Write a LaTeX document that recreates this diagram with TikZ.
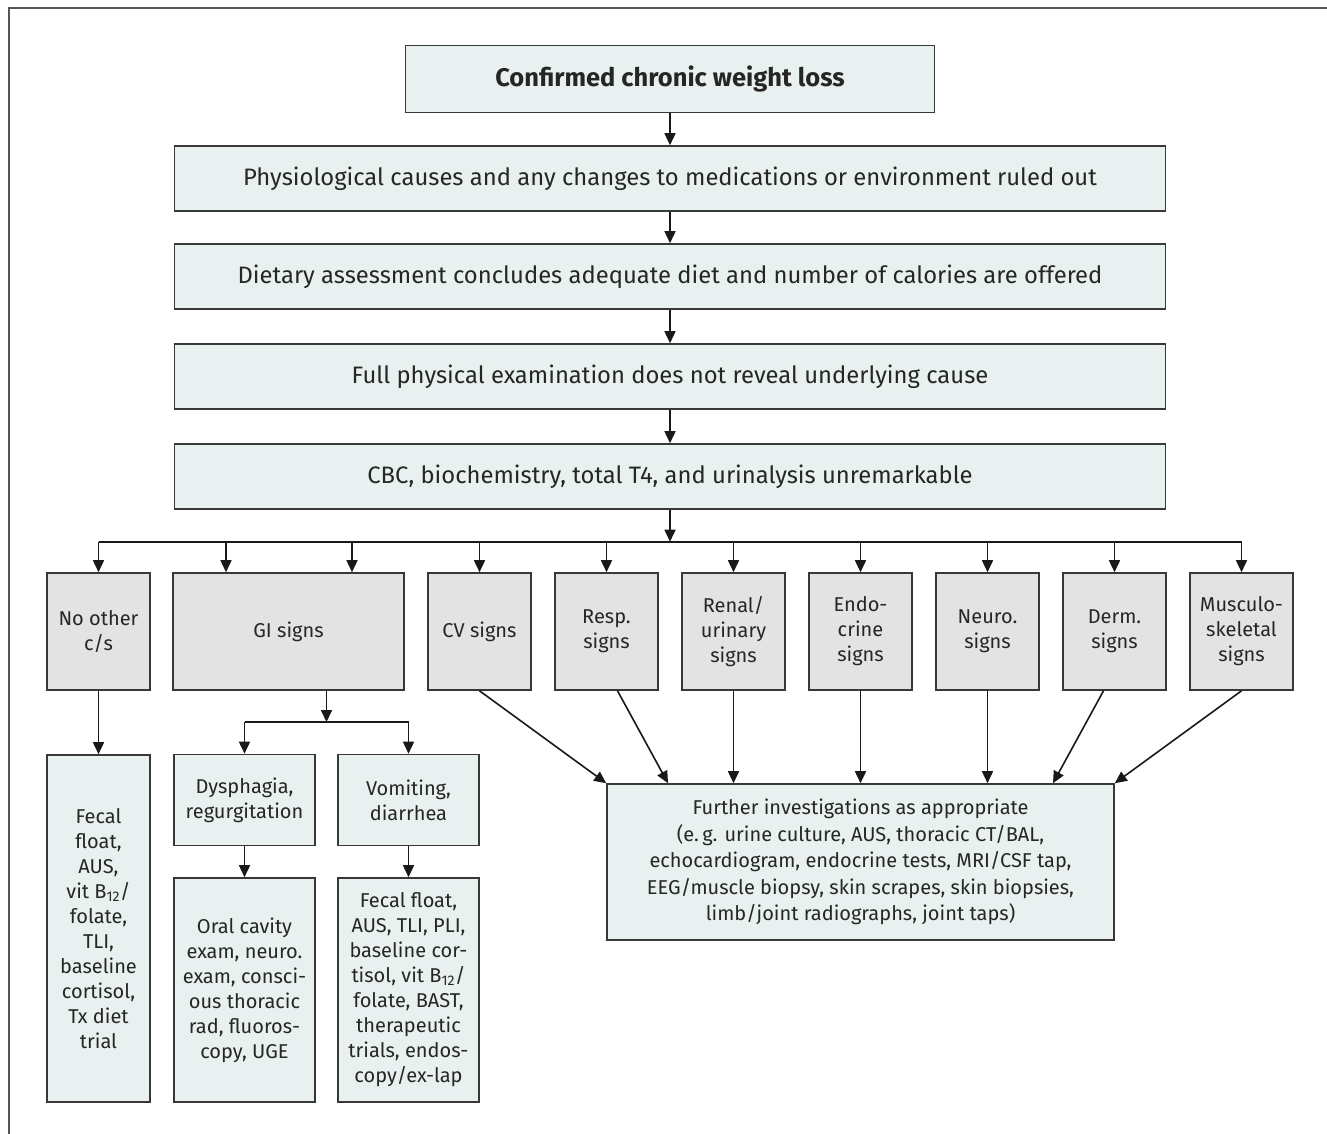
\documentclass[tikz,border=0pt]{standalone}
\usepackage{fontspec}
\setmainfont{Fira Sans}
\usetikzlibrary{arrows.meta}

\definecolor{boxteal}{HTML}{E8F1F0}
\definecolor{boxgray}{HTML}{E3E3E3}
\definecolor{edgegray}{HTML}{383838}
\definecolor{framegray}{HTML}{555555}

\tikzset{
  tealbox/.style={rectangle, draw=edgegray, line width=1.6pt, fill=boxteal,
    align=center, inner sep=0pt, text=black!85,
    font=\fontsize{20}{25}\selectfont},
  graybox/.style={tealbox, fill=boxgray},
  widebox/.style={tealbox, minimum width=991pt, minimum height=65pt,
    font=\fontsize{23.8}{28}\selectfont},
  arr/.style={-{Triangle[length=12pt,width=11pt]}, line width=1.6pt, draw=black!90},
  link/.style={line width=1.6pt, draw=black!90},
}

\begin{document}
\begin{tikzpicture}[x=1pt,y=-1pt]
\useasboundingbox (0,0) rectangle (1327,1134);
\fill[white] (0,0) rectangle (1327,1134);
\draw[line width=2.2pt, framegray] (9,1134) -- (9,8) -- (1327,8);

    % main chain
    \node (start) at (670,79) [tealbox, minimum width=529pt, minimum height=67pt, font=\fontsize{25.5}{30}\selectfont\bfseries] {Confirmed chronic weight loss};
    \node (phys) at (670,178.5) [widebox] {Physiological causes and any changes to medications or environment ruled out};
    \node (diet) at (670,276.5) [widebox] {Dietary assessment concludes adequate diet and number of calories are offered};
    \node (exam) at (670,376.5) [widebox] {Full physical examination does not reveal underlying cause};
    \node (lab) at (670,476.5) [widebox] {CBC, biochemistry, total T4, and urinalysis unremarkable};

    \draw[arr] (start) -- (phys);
    \draw[arr] (phys) -- (diet);
    \draw[arr] (diet) -- (exam);
    \draw[arr] (exam) -- (lab);

    % clinical signs
    \node (nocs) at (98.5,631.5) [graybox, minimum width=103pt, minimum height=117pt] {No other\\c/s};
    \node (gi) at (288.5,631.5) [graybox, minimum width=231pt, minimum height=117pt] {GI signs};
    \node (cv) at (479.5,631.5) [graybox, minimum width=103pt, minimum height=117pt] {CV signs};
    \node (resp) at (606.5,631.5) [graybox, minimum width=103pt, minimum height=117pt] {Resp.\\signs};
    \node (renal) at (733.5,631.5) [graybox, minimum width=103pt, minimum height=117pt] {Renal/\\urinary\\signs};
    \node (endo) at (860.5,631.5) [graybox, minimum width=103pt, minimum height=117pt] {Endo-\\crine\\signs};
    \node (neuro) at (987.5,631.5) [graybox, minimum width=103pt, minimum height=117pt] {Neuro.\\signs};
    \node (derm) at (1114.5,631.5) [graybox, minimum width=103pt, minimum height=117pt] {Derm.\\signs};
    \node (musc) at (1241.5,631.5) [graybox, minimum width=103pt, minimum height=117pt] {Musculo-\\skeletal\\signs};

    \coordinate (bus) at (670,541.7);
    \coordinate (gil) at (226,541.7);
    \coordinate (gir) at (352,541.7);
    \draw[arr] (lab) -- (bus);
    \draw[link] (nocs.north |- bus) -- (musc.north |- bus);
    \draw[arr] (nocs.north |- bus) -- (nocs);
    \draw[arr] (gil) -- (gil |- gi.north);
    \draw[arr] (gir) -- (gir |- gi.north);
    \draw[arr] (cv.north |- bus) -- (cv);
    \draw[arr] (resp.north |- bus) -- (resp);
    \draw[arr] (renal.north |- bus) -- (renal);
    \draw[arr] (endo.north |- bus) -- (endo);
    \draw[arr] (neuro.north |- bus) -- (neuro);
    \draw[arr] (derm.north |- bus) -- (derm);
    \draw[arr] (musc.north |- bus) -- (musc);

    % tests
    \node (fecal) at (98.5,928.5) [tealbox, minimum width=103pt, minimum height=347pt] {Fecal\\float,\\AUS,\\vit B\textsubscript{12}/\\folate,\\TLI,\\baseline\\cortisol,\\Tx diet\\trial};
    \node (dys) at (244.5,800) [tealbox, minimum width=141pt, minimum height=91pt] {Dysphagia,\\regurgitation};
    \node (vom) at (408.5,800) [tealbox, minimum width=141pt, minimum height=91pt] {Vomiting,\\diarrhea};
    \node (oral) at (244.5,990) [tealbox, minimum width=141pt, minimum height=224pt] {Oral cavity\\exam, neuro.\\exam, consci-\\ous thoracic\\rad, fluoros-\\copy, UGE};
    \node (gitests) at (408.5,990) [tealbox, minimum width=141pt, minimum height=224pt] {Fecal float,\\AUS, TLI, PLI,\\baseline cor-\\tisol, vit B\textsubscript{12}/\\folate, BAST,\\therapeutic\\trials, endos-\\copy/ex-lap};
    \node (further) at (860.5,862) [tealbox, minimum width=507pt, minimum height=156pt, font=\fontsize{20}{26.5}\selectfont] {Further investigations as appropriate\\(e.\,g. urine culture, AUS, thoracic CT/BAL,\\echocardiogram, endocrine tests, MRI/CSF tap,\\EEG/muscle biopsy, skin scrapes, skin biopsies,\\limb/joint radiographs, joint taps)};

    \draw[arr] (nocs) -- (fecal);
    \coordinate (gibus) at (326.5,722);
    \draw[arr] (gi.south -| gibus) -- (gibus);
    \draw[link] (dys.north |- gibus) -- (vom.north |- gibus);
    \draw[arr] (dys.north |- gibus) -- (dys);
    \draw[arr] (vom.north |- gibus) -- (vom);
    \draw[arr] (dys) -- (oral);
    \draw[arr] (vom) -- (gitests);

    \draw[arr] (cv.south) -- (further.north west);
    \draw[arr] ([xshift=11pt]resp.south) -- ([xshift=-192.5pt]further.north);
    \draw[arr] (renal) -- (renal.south |- further.north);
    \draw[arr] (endo) -- (further);
    \draw[arr] (neuro) -- (neuro.south |- further.north);
    \draw[arr] ([xshift=-11pt]derm.south) -- ([xshift=192.5pt]further.north);
    \draw[arr] (musc.south) -- (further.north east);
\end{tikzpicture}
\end{document}
